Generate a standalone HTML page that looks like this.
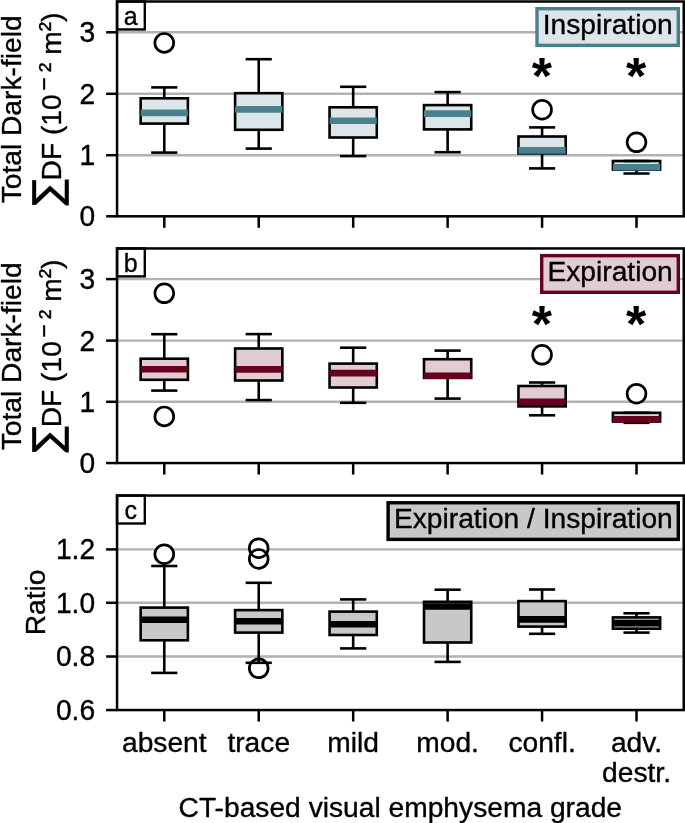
<!DOCTYPE html>
<html lang="en"><head><meta charset="utf-8"><title>Dark-field boxplots</title>
<style>html,body{margin:0;padding:0;background:#fff}svg{display:block}text{font-family:'Liberation Sans', 'DejaVu Sans', sans-serif;fill:#000;stroke:#000;stroke-width:0.35px}</style>
</head><body>
<svg width="685" height="823" viewBox="0 0 685 823">
<rect width="685" height="823" fill="#fff"/>
<g>
<line x1="117.05" x2="683.75" y1="32.3" y2="32.3" stroke="#b2b2b2" stroke-width="2.4"/>
<line x1="117.05" x2="683.75" y1="93.8" y2="93.8" stroke="#b2b2b2" stroke-width="2.4"/>
<line x1="117.05" x2="683.75" y1="155.2" y2="155.2" stroke="#b2b2b2" stroke-width="2.4"/>
<circle cx="164.28" cy="42.9" r="9.4" fill="#fff" fill-opacity="0.85"/>
<circle cx="542.08" cy="109.7" r="9.4" fill="#fff" fill-opacity="0.85"/>
<circle cx="636.52" cy="142.3" r="9.4" fill="#fff" fill-opacity="0.85"/>
<circle cx="164.28" cy="42.9" r="9.4" fill="none" stroke="#000" stroke-width="2.7"/>
<circle cx="542.08" cy="109.7" r="9.4" fill="none" stroke="#000" stroke-width="2.7"/>
<circle cx="636.52" cy="142.3" r="9.4" fill="none" stroke="#000" stroke-width="2.7"/>
<rect x="140.66" y="98.3" width="47.23" height="25.30" fill="#dce6e8" stroke="#000" stroke-width="2.6"/>
<line x1="164.28" x2="164.28" y1="87.4" y2="98.3" stroke="#000" stroke-width="2.6"/>
<line x1="164.28" x2="164.28" y1="123.6" y2="152.6" stroke="#000" stroke-width="2.6"/>
<line x1="152.47" x2="176.08" y1="87.4" y2="87.4" stroke="#000" stroke-width="2.6" stroke-linecap="square"/>
<line x1="152.47" x2="176.08" y1="152.6" y2="152.6" stroke="#000" stroke-width="2.6" stroke-linecap="square"/>
<line x1="140.66" x2="187.89" y1="112.9" y2="112.9" stroke="#48808e" stroke-width="6.6"/>
<rect x="235.11" y="93.2" width="47.23" height="36.60" fill="#dce6e8" stroke="#000" stroke-width="2.6"/>
<line x1="258.73" x2="258.73" y1="59.2" y2="93.2" stroke="#000" stroke-width="2.6"/>
<line x1="258.73" x2="258.73" y1="129.8" y2="148.6" stroke="#000" stroke-width="2.6"/>
<line x1="246.92" x2="270.53" y1="59.2" y2="59.2" stroke="#000" stroke-width="2.6" stroke-linecap="square"/>
<line x1="246.92" x2="270.53" y1="148.6" y2="148.6" stroke="#000" stroke-width="2.6" stroke-linecap="square"/>
<line x1="235.11" x2="282.34" y1="109.4" y2="109.4" stroke="#48808e" stroke-width="6.6"/>
<rect x="329.56" y="107.3" width="47.23" height="30.20" fill="#dce6e8" stroke="#000" stroke-width="2.6"/>
<line x1="353.18" x2="353.18" y1="86.8" y2="107.3" stroke="#000" stroke-width="2.6"/>
<line x1="353.18" x2="353.18" y1="137.5" y2="156.1" stroke="#000" stroke-width="2.6"/>
<line x1="341.37" x2="364.98" y1="86.8" y2="86.8" stroke="#000" stroke-width="2.6" stroke-linecap="square"/>
<line x1="341.37" x2="364.98" y1="156.1" y2="156.1" stroke="#000" stroke-width="2.6" stroke-linecap="square"/>
<line x1="329.56" x2="376.79" y1="120.7" y2="120.7" stroke="#48808e" stroke-width="6.6"/>
<rect x="424.01" y="105.1" width="47.23" height="24.30" fill="#dce6e8" stroke="#000" stroke-width="2.6"/>
<line x1="447.63" x2="447.63" y1="92.1" y2="105.1" stroke="#000" stroke-width="2.6"/>
<line x1="447.63" x2="447.63" y1="129.4" y2="152.2" stroke="#000" stroke-width="2.6"/>
<line x1="435.82" x2="459.43" y1="92.1" y2="92.1" stroke="#000" stroke-width="2.6" stroke-linecap="square"/>
<line x1="435.82" x2="459.43" y1="152.2" y2="152.2" stroke="#000" stroke-width="2.6" stroke-linecap="square"/>
<line x1="424.01" x2="471.24" y1="113.6" y2="113.6" stroke="#48808e" stroke-width="6.6"/>
<rect x="518.46" y="136.5" width="47.23" height="16.90" fill="#dce6e8" stroke="#000" stroke-width="2.6"/>
<line x1="542.08" x2="542.08" y1="127.4" y2="136.5" stroke="#000" stroke-width="2.6"/>
<line x1="542.08" x2="542.08" y1="153.4" y2="168.4" stroke="#000" stroke-width="2.6"/>
<line x1="530.27" x2="553.88" y1="127.4" y2="127.4" stroke="#000" stroke-width="2.6" stroke-linecap="square"/>
<line x1="530.27" x2="553.88" y1="168.4" y2="168.4" stroke="#000" stroke-width="2.6" stroke-linecap="square"/>
<line x1="518.46" x2="565.69" y1="150.4" y2="150.4" stroke="#48808e" stroke-width="6.6"/>
<rect x="612.91" y="161.0" width="47.23" height="8.60" fill="#dce6e8" stroke="#000" stroke-width="2.6"/>
<line x1="636.52" x2="636.52" y1="169.6" y2="173.5" stroke="#000" stroke-width="2.6"/>
<line x1="624.72" x2="648.33" y1="161.0" y2="161.0" stroke="#000" stroke-width="2.6" stroke-linecap="square"/>
<line x1="624.72" x2="648.33" y1="173.5" y2="173.5" stroke="#000" stroke-width="2.6" stroke-linecap="square"/>
<line x1="612.91" x2="660.14" y1="167.2" y2="167.2" stroke="#48808e" stroke-width="6.6"/>
<text x="541.78" y="94.4" text-anchor="middle" font-size="52" font-weight="bold" stroke="none" style="stroke:none">*</text>
<text x="636.23" y="94.4" text-anchor="middle" font-size="52" font-weight="bold" stroke="none" style="stroke:none">*</text>
<line x1="106.1" x2="117.05" y1="32.3" y2="32.3" stroke="#000" stroke-width="2.5"/>
<text transform="translate(95.1,42.20) scale(1,1.03)" text-anchor="end" font-size="28.2">3</text>
<line x1="106.1" x2="117.05" y1="93.8" y2="93.8" stroke="#000" stroke-width="2.5"/>
<text transform="translate(95.1,103.70) scale(1,1.03)" text-anchor="end" font-size="28.2">2</text>
<line x1="106.1" x2="117.05" y1="155.2" y2="155.2" stroke="#000" stroke-width="2.5"/>
<text transform="translate(95.1,165.10) scale(1,1.03)" text-anchor="end" font-size="28.2">1</text>
<line x1="106.1" x2="117.05" y1="216.3" y2="216.3" stroke="#000" stroke-width="2.5"/>
<text transform="translate(95.1,226.20) scale(1,1.03)" text-anchor="end" font-size="28.2">0</text>
<line x1="164.28" x2="164.28" y1="216.3" y2="227.80" stroke="#000" stroke-width="2.5"/>
<line x1="258.73" x2="258.73" y1="216.3" y2="227.80" stroke="#000" stroke-width="2.5"/>
<line x1="353.18" x2="353.18" y1="216.3" y2="227.80" stroke="#000" stroke-width="2.5"/>
<line x1="447.63" x2="447.63" y1="216.3" y2="227.80" stroke="#000" stroke-width="2.5"/>
<line x1="542.08" x2="542.08" y1="216.3" y2="227.80" stroke="#000" stroke-width="2.5"/>
<line x1="636.52" x2="636.52" y1="216.3" y2="227.80" stroke="#000" stroke-width="2.5"/>
<rect x="117.05" y="1.5" width="27.75" height="27.95" fill="#fff" stroke="#000" stroke-width="2.4"/>
<text x="130.7" y="24.90" text-anchor="middle" font-size="25">a</text>
<rect x="537.00" y="8.70" width="141.30" height="36.65" fill="#dce6e8" stroke="#48808e" stroke-width="3.4"/>
<text x="672.8" y="34.40" text-anchor="end" font-size="28.2">Inspiration</text>
<rect x="117.05" y="1.5" width="566.7" height="214.80" fill="none" stroke="#000" stroke-width="2.5"/>
</g>
<g>
<line x1="117.05" x2="683.75" y1="279.1" y2="279.1" stroke="#b2b2b2" stroke-width="2.4"/>
<line x1="117.05" x2="683.75" y1="340.6" y2="340.6" stroke="#b2b2b2" stroke-width="2.4"/>
<line x1="117.05" x2="683.75" y1="401.8" y2="401.8" stroke="#b2b2b2" stroke-width="2.4"/>
<circle cx="164.28" cy="293.3" r="9.4" fill="#fff" fill-opacity="0.85"/>
<circle cx="164.28" cy="416.4" r="9.4" fill="#fff" fill-opacity="0.85"/>
<circle cx="542.08" cy="354.8" r="9.4" fill="#fff" fill-opacity="0.85"/>
<circle cx="636.52" cy="393.7" r="9.4" fill="#fff" fill-opacity="0.85"/>
<circle cx="164.28" cy="293.3" r="9.4" fill="none" stroke="#000" stroke-width="2.7"/>
<circle cx="164.28" cy="416.4" r="9.4" fill="none" stroke="#000" stroke-width="2.7"/>
<circle cx="542.08" cy="354.8" r="9.4" fill="none" stroke="#000" stroke-width="2.7"/>
<circle cx="636.52" cy="393.7" r="9.4" fill="none" stroke="#000" stroke-width="2.7"/>
<rect x="140.66" y="358.7" width="47.23" height="21.10" fill="#e1ccd2" stroke="#000" stroke-width="2.6"/>
<line x1="164.28" x2="164.28" y1="334.2" y2="358.7" stroke="#000" stroke-width="2.6"/>
<line x1="164.28" x2="164.28" y1="379.8" y2="390.6" stroke="#000" stroke-width="2.6"/>
<line x1="152.47" x2="176.08" y1="334.2" y2="334.2" stroke="#000" stroke-width="2.6" stroke-linecap="square"/>
<line x1="152.47" x2="176.08" y1="390.6" y2="390.6" stroke="#000" stroke-width="2.6" stroke-linecap="square"/>
<line x1="140.66" x2="187.89" y1="369.3" y2="369.3" stroke="#67001d" stroke-width="6.6"/>
<rect x="235.11" y="348.5" width="47.23" height="32.00" fill="#e1ccd2" stroke="#000" stroke-width="2.6"/>
<line x1="258.73" x2="258.73" y1="334.1" y2="348.5" stroke="#000" stroke-width="2.6"/>
<line x1="258.73" x2="258.73" y1="380.5" y2="400.1" stroke="#000" stroke-width="2.6"/>
<line x1="246.92" x2="270.53" y1="334.1" y2="334.1" stroke="#000" stroke-width="2.6" stroke-linecap="square"/>
<line x1="246.92" x2="270.53" y1="400.1" y2="400.1" stroke="#000" stroke-width="2.6" stroke-linecap="square"/>
<line x1="235.11" x2="282.34" y1="369.4" y2="369.4" stroke="#67001d" stroke-width="6.6"/>
<rect x="329.56" y="363.6" width="47.23" height="23.90" fill="#e1ccd2" stroke="#000" stroke-width="2.6"/>
<line x1="353.18" x2="353.18" y1="347.7" y2="363.6" stroke="#000" stroke-width="2.6"/>
<line x1="353.18" x2="353.18" y1="387.5" y2="402.8" stroke="#000" stroke-width="2.6"/>
<line x1="341.37" x2="364.98" y1="347.7" y2="347.7" stroke="#000" stroke-width="2.6" stroke-linecap="square"/>
<line x1="341.37" x2="364.98" y1="402.8" y2="402.8" stroke="#000" stroke-width="2.6" stroke-linecap="square"/>
<line x1="329.56" x2="376.79" y1="373.1" y2="373.1" stroke="#67001d" stroke-width="6.6"/>
<rect x="424.01" y="359.2" width="47.23" height="18.70" fill="#e1ccd2" stroke="#000" stroke-width="2.6"/>
<line x1="447.63" x2="447.63" y1="350.6" y2="359.2" stroke="#000" stroke-width="2.6"/>
<line x1="447.63" x2="447.63" y1="377.9" y2="398.6" stroke="#000" stroke-width="2.6"/>
<line x1="435.82" x2="459.43" y1="350.6" y2="350.6" stroke="#000" stroke-width="2.6" stroke-linecap="square"/>
<line x1="435.82" x2="459.43" y1="398.6" y2="398.6" stroke="#000" stroke-width="2.6" stroke-linecap="square"/>
<line x1="424.01" x2="471.24" y1="375.7" y2="375.7" stroke="#67001d" stroke-width="6.6"/>
<rect x="518.46" y="386.0" width="47.23" height="20.40" fill="#e1ccd2" stroke="#000" stroke-width="2.6"/>
<line x1="542.08" x2="542.08" y1="382.5" y2="386.0" stroke="#000" stroke-width="2.6"/>
<line x1="542.08" x2="542.08" y1="406.4" y2="415.3" stroke="#000" stroke-width="2.6"/>
<line x1="530.27" x2="553.88" y1="382.5" y2="382.5" stroke="#000" stroke-width="2.6" stroke-linecap="square"/>
<line x1="530.27" x2="553.88" y1="415.3" y2="415.3" stroke="#000" stroke-width="2.6" stroke-linecap="square"/>
<line x1="518.46" x2="565.69" y1="401.7" y2="401.7" stroke="#67001d" stroke-width="6.6"/>
<rect x="612.91" y="412.8" width="47.23" height="8.70" fill="#e1ccd2" stroke="#000" stroke-width="2.6"/>
<line x1="636.52" x2="636.52" y1="421.5" y2="422.8" stroke="#000" stroke-width="2.6"/>
<line x1="624.72" x2="648.33" y1="412.8" y2="412.8" stroke="#000" stroke-width="2.6" stroke-linecap="square"/>
<line x1="624.72" x2="648.33" y1="422.8" y2="422.8" stroke="#000" stroke-width="2.6" stroke-linecap="square"/>
<line x1="612.91" x2="660.14" y1="419.4" y2="419.4" stroke="#67001d" stroke-width="6.6"/>
<text x="541.78" y="341.95" text-anchor="middle" font-size="52" font-weight="bold" stroke="none" style="stroke:none">*</text>
<text x="636.23" y="341.95" text-anchor="middle" font-size="52" font-weight="bold" stroke="none" style="stroke:none">*</text>
<line x1="106.1" x2="117.05" y1="279.1" y2="279.1" stroke="#000" stroke-width="2.5"/>
<text transform="translate(95.1,289.00) scale(1,1.03)" text-anchor="end" font-size="28.2">3</text>
<line x1="106.1" x2="117.05" y1="340.6" y2="340.6" stroke="#000" stroke-width="2.5"/>
<text transform="translate(95.1,350.50) scale(1,1.03)" text-anchor="end" font-size="28.2">2</text>
<line x1="106.1" x2="117.05" y1="401.8" y2="401.8" stroke="#000" stroke-width="2.5"/>
<text transform="translate(95.1,411.70) scale(1,1.03)" text-anchor="end" font-size="28.2">1</text>
<line x1="106.1" x2="117.05" y1="463.05" y2="463.05" stroke="#000" stroke-width="2.5"/>
<text transform="translate(95.1,472.95) scale(1,1.03)" text-anchor="end" font-size="28.2">0</text>
<line x1="164.28" x2="164.28" y1="463.05" y2="474.55" stroke="#000" stroke-width="2.5"/>
<line x1="258.73" x2="258.73" y1="463.05" y2="474.55" stroke="#000" stroke-width="2.5"/>
<line x1="353.18" x2="353.18" y1="463.05" y2="474.55" stroke="#000" stroke-width="2.5"/>
<line x1="447.63" x2="447.63" y1="463.05" y2="474.55" stroke="#000" stroke-width="2.5"/>
<line x1="542.08" x2="542.08" y1="463.05" y2="474.55" stroke="#000" stroke-width="2.5"/>
<line x1="636.52" x2="636.52" y1="463.05" y2="474.55" stroke="#000" stroke-width="2.5"/>
<rect x="117.05" y="248.45" width="27.75" height="27.95" fill="#fff" stroke="#000" stroke-width="2.4"/>
<text x="130.7" y="271.85" text-anchor="middle" font-size="25">b</text>
<rect x="541.70" y="255.65" width="136.60" height="36.65" fill="#e1ccd2" stroke="#67001d" stroke-width="3.4"/>
<text x="672.8" y="281.35" text-anchor="end" font-size="28.2">Expiration</text>
<rect x="117.05" y="248.45" width="566.7" height="214.60" fill="none" stroke="#000" stroke-width="2.5"/>
</g>
<g>
<line x1="117.05" x2="683.75" y1="549.4" y2="549.4" stroke="#b2b2b2" stroke-width="2.4"/>
<line x1="117.05" x2="683.75" y1="602.8" y2="602.8" stroke="#b2b2b2" stroke-width="2.4"/>
<line x1="117.05" x2="683.75" y1="656.5" y2="656.5" stroke="#b2b2b2" stroke-width="2.4"/>
<circle cx="164.28" cy="554.2" r="9.4" fill="#fff" fill-opacity="0.85"/>
<circle cx="258.73" cy="548.2" r="9.4" fill="#fff" fill-opacity="0.85"/>
<circle cx="258.73" cy="558.9" r="9.4" fill="#fff" fill-opacity="0.85"/>
<circle cx="258.73" cy="668.3" r="9.4" fill="#fff" fill-opacity="0.85"/>
<circle cx="164.28" cy="554.2" r="9.4" fill="none" stroke="#000" stroke-width="2.7"/>
<circle cx="258.73" cy="548.2" r="9.4" fill="none" stroke="#000" stroke-width="2.7"/>
<circle cx="258.73" cy="558.9" r="9.4" fill="none" stroke="#000" stroke-width="2.7"/>
<circle cx="258.73" cy="668.3" r="9.4" fill="none" stroke="#000" stroke-width="2.7"/>
<rect x="140.66" y="607.6" width="47.23" height="32.70" fill="#c8c8c8" stroke="#000" stroke-width="2.6"/>
<line x1="164.28" x2="164.28" y1="566.0" y2="607.6" stroke="#000" stroke-width="2.6"/>
<line x1="164.28" x2="164.28" y1="640.3" y2="672.9" stroke="#000" stroke-width="2.6"/>
<line x1="152.47" x2="176.08" y1="566.0" y2="566.0" stroke="#000" stroke-width="2.6" stroke-linecap="square"/>
<line x1="152.47" x2="176.08" y1="672.9" y2="672.9" stroke="#000" stroke-width="2.6" stroke-linecap="square"/>
<line x1="140.66" x2="187.89" y1="619.8" y2="619.8" stroke="#000000" stroke-width="6.6"/>
<rect x="235.11" y="610.1" width="47.23" height="22.50" fill="#c8c8c8" stroke="#000" stroke-width="2.6"/>
<line x1="258.73" x2="258.73" y1="582.8" y2="610.1" stroke="#000" stroke-width="2.6"/>
<line x1="258.73" x2="258.73" y1="632.6" y2="662.8" stroke="#000" stroke-width="2.6"/>
<line x1="246.92" x2="270.53" y1="582.8" y2="582.8" stroke="#000" stroke-width="2.6" stroke-linecap="square"/>
<line x1="246.92" x2="270.53" y1="662.8" y2="662.8" stroke="#000" stroke-width="2.6" stroke-linecap="square"/>
<line x1="235.11" x2="282.34" y1="621.2" y2="621.2" stroke="#000000" stroke-width="6.6"/>
<rect x="329.56" y="611.6" width="47.23" height="23.40" fill="#c8c8c8" stroke="#000" stroke-width="2.6"/>
<line x1="353.18" x2="353.18" y1="599.4" y2="611.6" stroke="#000" stroke-width="2.6"/>
<line x1="353.18" x2="353.18" y1="635.0" y2="648.4" stroke="#000" stroke-width="2.6"/>
<line x1="341.37" x2="364.98" y1="599.4" y2="599.4" stroke="#000" stroke-width="2.6" stroke-linecap="square"/>
<line x1="341.37" x2="364.98" y1="648.4" y2="648.4" stroke="#000" stroke-width="2.6" stroke-linecap="square"/>
<line x1="329.56" x2="376.79" y1="624.3" y2="624.3" stroke="#000000" stroke-width="6.6"/>
<rect x="424.01" y="601.8" width="47.23" height="40.70" fill="#c8c8c8" stroke="#000" stroke-width="2.6"/>
<line x1="447.63" x2="447.63" y1="589.7" y2="601.8" stroke="#000" stroke-width="2.6"/>
<line x1="447.63" x2="447.63" y1="642.5" y2="661.9" stroke="#000" stroke-width="2.6"/>
<line x1="435.82" x2="459.43" y1="589.7" y2="589.7" stroke="#000" stroke-width="2.6" stroke-linecap="square"/>
<line x1="435.82" x2="459.43" y1="661.9" y2="661.9" stroke="#000" stroke-width="2.6" stroke-linecap="square"/>
<line x1="424.01" x2="471.24" y1="606.5" y2="606.5" stroke="#000000" stroke-width="6.6"/>
<rect x="518.46" y="601.1" width="47.23" height="25.50" fill="#c8c8c8" stroke="#000" stroke-width="2.6"/>
<line x1="542.08" x2="542.08" y1="589.5" y2="601.1" stroke="#000" stroke-width="2.6"/>
<line x1="542.08" x2="542.08" y1="626.6" y2="633.8" stroke="#000" stroke-width="2.6"/>
<line x1="530.27" x2="553.88" y1="589.5" y2="589.5" stroke="#000" stroke-width="2.6" stroke-linecap="square"/>
<line x1="530.27" x2="553.88" y1="633.8" y2="633.8" stroke="#000" stroke-width="2.6" stroke-linecap="square"/>
<line x1="518.46" x2="565.69" y1="619.4" y2="619.4" stroke="#000000" stroke-width="6.6"/>
<rect x="612.91" y="617.4" width="47.23" height="11.30" fill="#c8c8c8" stroke="#000" stroke-width="2.6"/>
<line x1="636.52" x2="636.52" y1="613.3" y2="617.4" stroke="#000" stroke-width="2.6"/>
<line x1="636.52" x2="636.52" y1="628.7" y2="632.6" stroke="#000" stroke-width="2.6"/>
<line x1="624.72" x2="648.33" y1="613.3" y2="613.3" stroke="#000" stroke-width="2.6" stroke-linecap="square"/>
<line x1="624.72" x2="648.33" y1="632.6" y2="632.6" stroke="#000" stroke-width="2.6" stroke-linecap="square"/>
<line x1="612.91" x2="660.14" y1="623.1" y2="623.1" stroke="#000000" stroke-width="6.6"/>
<line x1="106.1" x2="117.05" y1="549.4" y2="549.4" stroke="#000" stroke-width="2.5"/>
<text transform="translate(95.1,559.30) scale(1,1.03)" text-anchor="end" font-size="28.2">1.2</text>
<line x1="106.1" x2="117.05" y1="602.8" y2="602.8" stroke="#000" stroke-width="2.5"/>
<text transform="translate(95.1,612.70) scale(1,1.03)" text-anchor="end" font-size="28.2">1.0</text>
<line x1="106.1" x2="117.05" y1="656.5" y2="656.5" stroke="#000" stroke-width="2.5"/>
<text transform="translate(95.1,666.40) scale(1,1.03)" text-anchor="end" font-size="28.2">0.8</text>
<line x1="106.1" x2="117.05" y1="710.05" y2="710.05" stroke="#000" stroke-width="2.5"/>
<text transform="translate(95.1,719.95) scale(1,1.03)" text-anchor="end" font-size="28.2">0.6</text>
<line x1="164.28" x2="164.28" y1="710.05" y2="721.55" stroke="#000" stroke-width="2.5"/>
<line x1="258.73" x2="258.73" y1="710.05" y2="721.55" stroke="#000" stroke-width="2.5"/>
<line x1="353.18" x2="353.18" y1="710.05" y2="721.55" stroke="#000" stroke-width="2.5"/>
<line x1="447.63" x2="447.63" y1="710.05" y2="721.55" stroke="#000" stroke-width="2.5"/>
<line x1="542.08" x2="542.08" y1="710.05" y2="721.55" stroke="#000" stroke-width="2.5"/>
<line x1="636.52" x2="636.52" y1="710.05" y2="721.55" stroke="#000" stroke-width="2.5"/>
<rect x="117.05" y="495.55" width="27.75" height="27.95" fill="#fff" stroke="#000" stroke-width="2.4"/>
<text x="130.7" y="518.95" text-anchor="middle" font-size="25">c</text>
<rect x="388.10" y="502.75" width="290.20" height="36.65" fill="#c8c8c8" stroke="#000000" stroke-width="3.4"/>
<text x="672.8" y="528.45" text-anchor="end" font-size="28.2">Expiration / Inspiration</text>
<rect x="117.05" y="495.55" width="566.7" height="214.50" fill="none" stroke="#000" stroke-width="2.5"/>
</g>
<text transform="translate(20.7,109.38) rotate(-90)" text-anchor="middle" font-size="28.2">Total Dark-field</text>
<text transform="translate(60.9,109.23) rotate(-90)" text-anchor="middle" font-size="28.2"><tspan font-family="'DejaVu Sans', sans-serif" font-size="40">∑</tspan><tspan dx="-1.5">DF (10</tspan><tspan font-family="'DejaVu Sans', sans-serif" font-weight="bold" dx="2.7" dy="-3.3">⁻</tspan><tspan dx="4.6" dy="1.5">²</tspan><tspan dy="1.8"> m</tspan><tspan dy="-1.8">²</tspan><tspan dy="1.8">)</tspan></text>
<text transform="translate(20.7,356.30) rotate(-90)" text-anchor="middle" font-size="28.2">Total Dark-field</text>
<text transform="translate(60.9,356.15) rotate(-90)" text-anchor="middle" font-size="28.2"><tspan font-family="'DejaVu Sans', sans-serif" font-size="40">∑</tspan><tspan dx="-1.5">DF (10</tspan><tspan font-family="'DejaVu Sans', sans-serif" font-weight="bold" dx="2.7" dy="-3.3">⁻</tspan><tspan dx="4.6" dy="1.5">²</tspan><tspan dy="1.8"> m</tspan><tspan dy="-1.8">²</tspan><tspan dy="1.8">)</tspan></text>
<text transform="translate(44.7,602.4) rotate(-90)" text-anchor="middle" font-size="28.2">Ratio</text>
<text x="164.28" y="752.45" text-anchor="middle" font-size="28.2">absent</text>
<text x="258.73" y="752.45" text-anchor="middle" font-size="28.2">trace</text>
<text x="353.18" y="752.45" text-anchor="middle" font-size="28.2">mild</text>
<text x="447.63" y="752.45" text-anchor="middle" font-size="28.2">mod.</text>
<text x="542.08" y="752.45" text-anchor="middle" font-size="28.2">confl.</text>
<text x="636.52" y="752.45" text-anchor="middle" font-size="28.2">adv.</text>
<text x="636.52" y="782.35" text-anchor="middle" font-size="28.2">destr.</text>
<text x="400.3" y="817.3" text-anchor="middle" font-size="28.2">CT-based visual emphysema grade</text>
</svg></body></html>
